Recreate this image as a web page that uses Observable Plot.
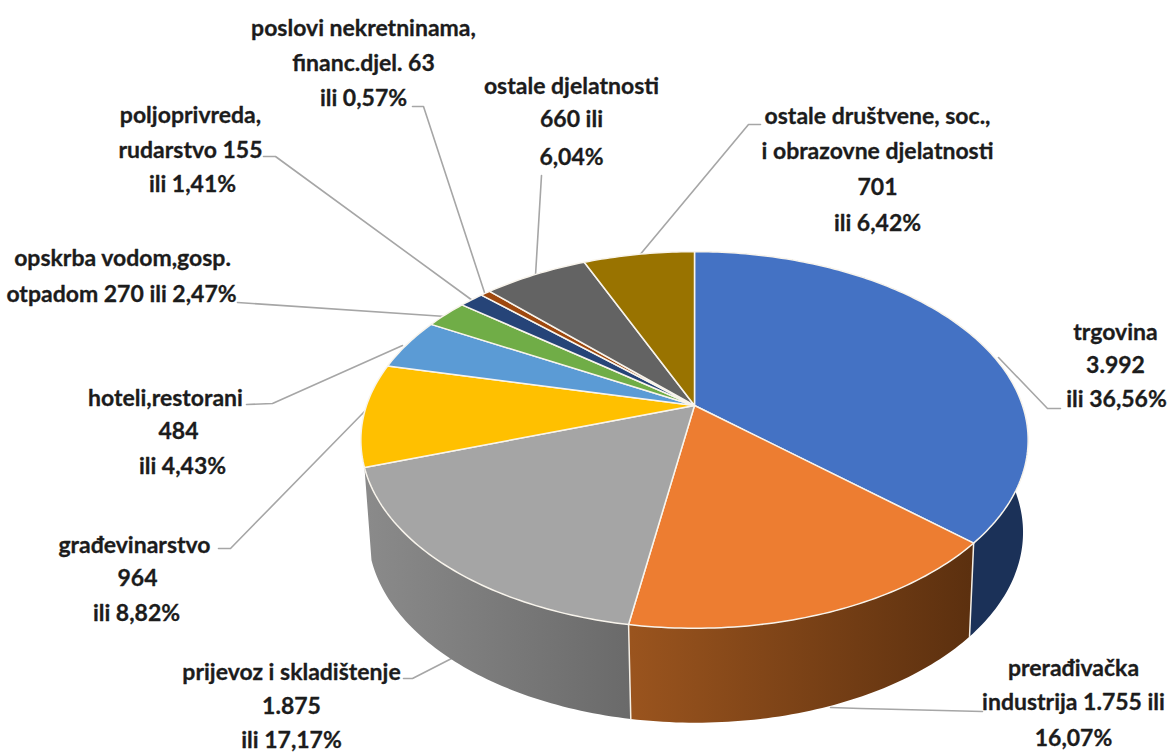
<!DOCTYPE html>
<html>
<head>
<meta charset="utf-8">
<script src="https://cdn.jsdelivr.net/npm/d3@7"></script>
<script src="https://cdn.jsdelivr.net/npm/@observablehq/plot@0.6"></script>
<style>html,body{margin:0;padding:0;background:#fff}svg{display:block}</style>
</head>
<body>
<div id="chart"></div>
<script>
const categories = ["trgovina","prerađivačka industrija","prijevoz i skladištenje","građevinarstvo","hoteli,restorani","opskrba vodom,gosp. otpadom","poljoprivreda, rudarstvo","poslovi nekretninama, financ.djel.","ostale djelatnosti","ostale društvene, soc., i obrazovne djelatnosti"];
const values = [3992,1755,1875,964,484,270,155,63,660,701];
const topColors = ["#4472C4","#ED7D31","#A5A5A5","#FFC000","#5B9BD5","#70AD47","#264478","#9E480E","#636363","#997300"];
const sideColors = ["#1b3158","url(#sideOrange)","url(#sideGrey)","#7f6000","#3a6f9f","#4c7a30","#16294a","#5f2b08","#3b3b3b","#5c4500"];

const labelLines = [
  ["poslovi nekretninama,",363,28],["financ.djel. 63",363,63],["ili 0,57%",363,98],
  ["poljoprivreda,",190,115],["rudarstvo 155",190,150],["ili 1,41%",192,184],
  ["opskrba vodom,gosp.",122,258],["otpadom 270 ili 2,47%",121,294],
  ["ostale djelatnosti",571,86],["660 ili",571,119],["6,04%",571,157],
  ["ostale društvene, soc.,",877,116],["i obrazovne djelatnosti",877,151],["701",877,187],["ili 6,42%",877,223],
  ["trgovina",1115,332],["3.992",1115,365],["ili 36,56%",1116,399],
  ["prerađivačka",1073,668],["industrija 1.755 ili",1073,702],["16,07%",1073,738],
  ["prijevoz i skladištenje",291,672],["1.875",291,706],["ili 17,17%",291,740],
  ["građevinarstvo",134,545],["964",137,578],["ili 8,82%",136,613],
  ["hoteli,restorani",165,398],["484",178,431],["ili 4,43%",182,466]
];
const leaders = [
  [[1060,408],[1047,408],[998,357]],
  [[982,711],[860,708],[830,707]],
  [[403,678],[412,678],[455,656]],
  [[218,548],[230,548],[365,410]],
  [[246,404],[272,403],[402,345]],
  [[237,302],[445,316]],
  [[263,156],[275,156],[472,300]],
  [[412,106],[423,106],[484,292]],
  [[541,175],[535,275]],
  [[760,124],[748,124],[638,256]]
];

// Perspective view of the disc: the top and bottom rims are projected circles.
const topRim = {cx:694, cy:405, a:328, b:182, k:0.183};
const lowRim = {cx:695, cy:497, a:322, b:184, k:0.183};
const project = (r, t) => {
  const u = Math.sin(t), v = Math.cos(t), d = 1 + r.k * v;
  return {x: r.cx + r.a * u / d, y: r.cy - r.b * v / d};
};
const total = d3.sum(values);
let acc = 0;
const slices = values.map((v, i) => {
  const t0 = acc / total * 2 * Math.PI; acc += v;
  return {i, t0, t1: acc / total * 2 * Math.PI};
});
const arc = (r, s) => {
  const n = Math.max(4, Math.ceil((s.t1 - s.t0) * 60));
  return d3.range(n + 1).map(j => project(r, s.t0 + (s.t1 - s.t0) * j / n));
};
const topPoly = s => {
  const c = {x: topRim.cx, y: topRim.cy};
  return [c, ...arc(topRim, s), c];
};
const sidePoly = s => {
  const a = arc(topRim, s), b = arc(lowRim, s).reverse();
  return [...a, ...b, a[0]];
};
// Only slices whose outer wall reaches the front half of the disc show a side.
const visibleSides = slices.filter(s => Math.cos(s.t1) < 0);
const seams = slices.filter(s => Math.cos(s.t1) < -0.4).map(s => [project(topRim, s.t1), project(lowRim, s.t1)]);

const defs = () => {
  const d = d3.create("svg:defs");
  const grad = (id, x1, x2, c1, c2) => {
    const g = d.append("linearGradient").attr("id", id).attr("gradientUnits", "userSpaceOnUse")
      .attr("x1", x1).attr("x2", x2).attr("y1", 0).attr("y2", 0);
    g.append("stop").attr("offset", 0).attr("stop-color", c1);
    g.append("stop").attr("offset", 1).attr("stop-color", c2);
  };
  grad("sideOrange", 630, 970, "#9a541e", "#5c300f");
  grad("sideGrey", 368, 630, "#8a8a8a", "#6a6a6a");
  return d.node();
};

const font = "Lato,'Liberation Sans',sans-serif";
const chart = Plot.plot({
  width: 1167, height: 752, margin: 0,
  x: {domain: [0, 1167], range: [0, 1167], axis: null},
  y: {domain: [0, 752], range: [0, 752], axis: null},
  style: {background: "#fff"},
  marks: [
    defs,
    ...leaders.map(l => Plot.line(l, {x: d => d[0], y: d => d[1], stroke: "#a6a6a6", strokeWidth: 1.6})),
    ...visibleSides.map(s => Plot.line(sidePoly(s), {x: "x", y: "y", fill: sideColors[s.i], stroke: "none"})),
    ...seams.map(l => Plot.line(l, {x: "x", y: "y", stroke: "#f4efe6", strokeWidth: 1.5})),
    ...slices.map(s => Plot.line(topPoly(s), {x: "x", y: "y", fill: topColors[s.i], stroke: "#f8f4ec", strokeWidth: 1.5})),
    Plot.text(labelLines, {x: d => d[1], y: d => d[2], text: d => d[0], fontFamily: font, fontWeight: "bold", fontSize: 23, fill: "#1c1c1c", stroke: "#1c1c1c", strokeWidth: 0.3, lineAnchor: "middle"})
  ]
});
document.getElementById("chart").append(chart);
</script>
</body>
</html>
